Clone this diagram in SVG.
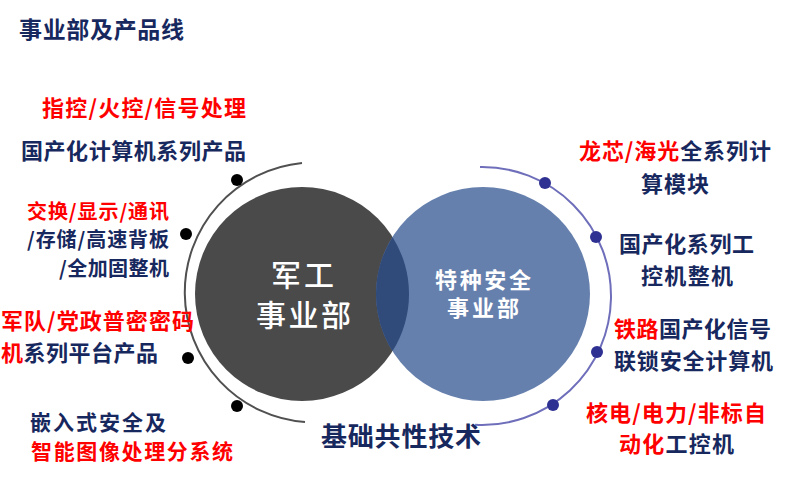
<svg xmlns="http://www.w3.org/2000/svg" width="788" height="504" viewBox="0 0 788 504">
<style>
text{font-family:"Noto Sans CJK SC","Microsoft YaHei",sans-serif;font-weight:700;fill:#17285E}
.r{fill:#FF0000}
.s22{font-size:22px}
.s21{font-size:21px}
.s20{font-size:20px}
.w{fill:#FFFFFF}
.arcL{fill:none;stroke:#505050;stroke-width:2}
.arcR{fill:none;stroke:#6E6EBA;stroke-width:2}
.dotL{fill:#000000}
.dotR{fill:#2E3192}
</style>
<rect width="788" height="504" fill="#FFFFFF"/>
<text id="title" x="19" y="38" font-size="23" textLength="165" lengthAdjust="spacing">事业部及产品线</text>

<g id="connectors">
<path class="arcL" d="M302 163 A130 130 0 0 0 305 422"/>
<path class="arcR" d="M480 167 A129 129 0 1 1 475.1 424.8"/>
<circle class="dotL" cx="237" cy="180" r="6"/>
<circle class="dotL" cx="186" cy="234" r="6"/>
<circle class="dotL" cx="188" cy="358" r="6"/>
<circle class="dotL" cx="237" cy="406" r="6"/>
<circle class="dotR" cx="545" cy="183" r="6"/>
<circle class="dotR" cx="596" cy="237" r="6"/>
<circle class="dotR" cx="597" cy="352" r="6"/>
<circle class="dotR" cx="553" cy="405" r="6"/>
</g>

<g id="military">
<circle cx="302" cy="294" r="107" fill="#4A4A4A"/>
</g>
<g id="special">
<circle cx="483" cy="294" r="107" fill="#6680AE"/>
</g>
<g id="overlap">
<path d="M392.5 236.9 A107 107 0 0 1 392.5 351.1 A107 107 0 0 1 392.5 236.9 Z" fill="#304A7A"/>
</g>
<g id="military-label">
<text class="w" x="271" y="286" font-size="30" style="font-weight:500" textLength="63" lengthAdjust="spacing">军工</text>
<text class="w" x="256" y="326" font-size="30" style="font-weight:500" textLength="95" lengthAdjust="spacing">事业部</text>
</g>
<g id="special-label">
<text class="w" x="435" y="287.5" font-size="22" textLength="96" lengthAdjust="spacing">特种安全</text>
<text class="w" x="447" y="315.5" font-size="22" textLength="72" lengthAdjust="spacing">事业部</text>
</g>
<g id="common-tech">
<text x="321" y="446" font-size="26" textLength="160" lengthAdjust="spacing">基础共性技术</text>
</g>

<g id="left-items">
<g id="item-l1">
<text class="r s22" x="42" y="115.5" textLength="204" lengthAdjust="spacing">指控/火控/信号处理</text>
<text class="s22" x="21" y="158.5" textLength="225" lengthAdjust="spacing">国产化计算机系列产品</text>
</g>
<g id="item-l2">
<text class="r s20" x="27" y="218.5" textLength="142" lengthAdjust="spacing">交换/显示/通讯</text>
<text class="s20" x="27" y="246.5" textLength="142" lengthAdjust="spacing">/存储/高速背板</text>
<text class="s20" x="59" y="275.5" textLength="110" lengthAdjust="spacing">/全加固整机</text>
</g>
<g id="item-l3">
<text class="r s22" x="1" y="328.5" textLength="193" lengthAdjust="spacing">军队/党政普密密码</text>
<text class="s22" x="1" y="360.5" textLength="157" lengthAdjust="spacing"><tspan class="r">机</tspan>系列平台产品</text>
</g>
<g id="item-l4">
<text class="s21" x="30" y="430" textLength="136" lengthAdjust="spacing">嵌入式安全及</text>
<text class="r s21" x="31" y="458.5" textLength="202" lengthAdjust="spacing">智能图像处理分系统</text>
</g>
</g>

<g id="right-items">
<g id="item-r1">
<text class="s22" x="579" y="158.5" textLength="192" lengthAdjust="spacing"><tspan class="r">龙芯/海光</tspan>全系列计</text>
<text class="s22" x="641" y="191.5" textLength="68" lengthAdjust="spacing">算模块</text>
</g>
<g id="item-r2">
<text class="s22" x="619" y="251.5" textLength="135" lengthAdjust="spacing">国产化系列工</text>
<text class="s22" x="641" y="283.5" textLength="92" lengthAdjust="spacing">控机整机</text>
</g>
<g id="item-r3">
<text class="s22" x="614" y="336.5" textLength="157" lengthAdjust="spacing"><tspan class="r">铁路</tspan>国产化信号</text>
<text class="s22" x="614" y="368.5" textLength="159" lengthAdjust="spacing">联锁安全计算机</text>
</g>
<g id="item-r4">
<text class="r s22" x="586" y="420.5" textLength="180" lengthAdjust="spacing">核电/电力/非标自</text>
<text class="s22" x="619" y="451.5" textLength="115" lengthAdjust="spacing"><tspan class="r">动化</tspan>工控机</text>
</g>
</g>
</svg>
